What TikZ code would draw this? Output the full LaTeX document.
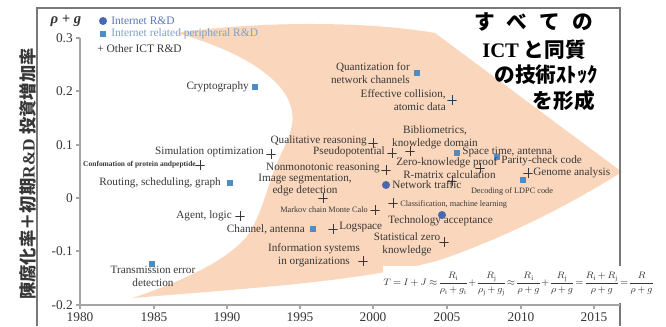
\documentclass[tikz,border=0pt]{standalone}
\usepackage{fontspec}
\usepackage{amsmath}
\setmainfont{Liberation Serif}
\newfontfamily\jp{Noto Sans CJK JP}
\definecolor{orangefill}{RGB}{250,215,188}
\definecolor{cblue}{RGB}{72,104,176}
\definecolor{sblue}{RGB}{79,140,198}
\definecolor{txt}{RGB}{55,55,55}
\definecolor{axisc}{RGB}{165,165,165}
\definecolor{framec}{RGB}{120,120,120}
\definecolor{legblue}{RGB}{90,120,185}
\definecolor{leglight}{RGB}{125,160,200}
\tikzset{
  lbl/.style={font=\fontsize{8.4}{9.6}\selectfont, text=txt, inner sep=0pt},
  sml/.style={font=\fontsize{6.2}{7}\selectfont, text=txt, inner sep=0pt},
  circm/.style={circle, fill=cblue, minimum size=6pt, inner sep=0pt},
  sqm/.style={rectangle, fill=sblue, minimum size=5.2pt, inner sep=0pt},
  plm/.style={rectangle, minimum size=6.8pt, inner sep=0pt,
    path picture={\draw[line width=0.5pt, draw=txt]
      (path picture bounding box.north) -- (path picture bounding box.south)
      (path picture bounding box.west) -- (path picture bounding box.east);}},
  ticklbl/.style={font=\fontsize{10}{12}\selectfont, text=txt, inner sep=0pt},
  jptxt/.style={font=\jp\bfseries\fontsize{15.5}{18}\selectfont, text=black, inner sep=0pt},
}
\begin{document}
\begin{tikzpicture}[x=0.75pt,y=-0.75pt]
\useasboundingbox (0,0) rectangle (666,326);
\fill[white] (0,0) rectangle (666,326);
% orange region
\fill[orangefill] (176,33) .. controls (250,22) and (360,20) .. (435,33)
  -- (622,172) .. controls (580,198) and (520,232) .. (440,260)
  .. controls (360,282) and (250,288) .. (133,298)
  .. controls (190,278) and (232,258) .. (250,232)
  .. controls (262,212) and (268,185) .. (276,165)
  .. controls (285,145) and (295,128) .. (292,112)
  .. controls (288,80) and (240,50) .. (176,33) -- cycle;
% frame
\draw[framec, line width=0.8pt] (37,326) -- (37,8) -- (620,8) -- (620,326);
% axes
\draw[axisc, line width=1.2pt] (80,38) -- (80,305) -- (620,305);
\foreach \v/\py in {0.3/38,0.2/91,0.1/145,0/198,-0.1/251,-0.2/305}{
  \draw[axisc, line width=0.8pt] (76,\py) -- (80,\py);
  \node[ticklbl, anchor=east] (yt\py) at (73,\py) {\v};
}
\foreach \yr/\px in {1980/80,1985/154,1990/227,1995/300,2000/373,2005/447,2010/521,2015/594}{
  \draw[axisc, line width=0.8pt] (\px,305) -- (\px,309);
  \node[ticklbl, anchor=north] (xt\yr) at (\px,312) {\yr};
}
% y axis title
\node[rotate=90, font=\jp\bfseries\fontsize{13}{15}\selectfont, inner sep=0pt, text=txt] (ytitle) at (28,174)
  {陳腐化率＋初期{\fontspec{Liberation Serif}\bfseries R\&D} 投資増加率};
\node[font=\bfseries\itshape\fontsize{11}{12}\selectfont, inner sep=0pt, text=txt] (rhog) at (66,21) {ρ + g};
% legend
\node[circm] (lg1) at (103,21) {};
\node[lbl, anchor=west, text=legblue, font=\fontsize{8.6}{9.6}\selectfont] (lg1t) at (111,21) {Internet R\&D};
\node[sqm] (lg2) at (103,34) {};
\node[lbl, anchor=west, text=leglight, font=\fontsize{8.6}{9.6}\selectfont] (lg2t) at (111,34) {Internet related peripheral R\&D};
\node[lbl, anchor=west, font=\fontsize{8.6}{9.6}\selectfont] (lg3t) at (97,49) {+ Other ICT R\&D};
% Japanese text
\node[jptxt, anchor=east] (j1) at (593,22) {す\hspace{9pt}べ\hspace{9pt}て\hspace{9pt}の};
\node[jptxt, anchor=east] (j2) at (586,50) {{\fontspec{Liberation Serif}\bfseries ICT} と同質};
\node[jptxt, anchor=east] (j3) at (598,75) {の技術ｽﾄｯｸ};
\node[jptxt, anchor=east] (j4) at (595,101) {を形成};
% data points with labels
\node[sqm] (crypto) at (255,87) {};
\node[lbl, anchor=east] (cryptoL) at (249,87) {Cryptography};
\node[sqm] (quant) at (417,73) {};
\node[lbl, anchor=east, align=right] (quantL) at (410,73) {Quantization for\\network channels};
\node[plm] (effcol) at (452,100) {};
\node[lbl, anchor=east, align=right] (effcolL) at (446,100) {Effective collision,\\atomic data};
\node[plm] (simopt) at (271,154) {};
\node[lbl, anchor=east] (simoptL) at (264,152) {Simulation optimization};
\node[plm] (conf) at (200,165) {};
\node[sml, anchor=east, font=\bfseries\fontsize{5.6}{7}\selectfont] (confL) at (196,165) {Confomation of protein andpeptide};
\node[sqm] (route) at (230,183) {};
\node[lbl, anchor=east] (routeL) at (221,183) {Routing, scheduling, graph};
\node[plm] (agent) at (240,216) {};
\node[lbl, anchor=east] (agentL) at (232,216) {Agent, logic};
\node[sqm] (trans) at (152,264) {};
\node[lbl, anchor=north, align=center] (transL) at (153,266) {Transmission error\\detection};
\node[lbl, anchor=east] (chanL) at (305,229) {Channel, antenna};
\node[sqm] (chan) at (313,229) {};
\node[plm] (logs) at (333,229) {};
\node[lbl, anchor=west] (logsL) at (339,227) {Logspace};
\node[plm] (info) at (363,261) {};
\node[lbl, align=center] (infoL) at (314,255) {Information systems\\in organizations};
\node[plm] (stat) at (444,242) {};
\node[lbl, align=center] (statL) at (407,244) {Statistical zero\\knowledge};
\node[lbl, anchor=west] (techL) at (388,221) {Technology acceptance};
\node[circm] (tech) at (442,215) {};
\node[plm] (class) at (393,203) {};
\node[sml, anchor=west] (classL) at (400,204) {Classification, machine learning};
\node[circm] (net) at (386,185) {};
\node[lbl, anchor=west] (netL) at (392,185) {Network traffic};
\node[plm] (markov) at (375,210) {};
\node[sml, anchor=east] (markovL) at (368,210) {Markov chain Monte Calo};
\node[plm] (image) at (323,198) {};
\node[lbl, align=center] (imageL) at (305,185) {Image segmentation,\\edge detection};
\node[plm] (nonmono) at (386,170) {};
\node[lbl, anchor=east] (nonmonoL) at (380,168) {Nonmonotonic reasoning};
\node[plm] (qual) at (373,143) {};
\node[lbl, anchor=east] (qualL) at (367,141) {Qualitative reasoning};
\node[plm] (pseudo) at (392,153) {};
\node[lbl, anchor=east] (pseudoL) at (385,152) {Pseudopotential};
\node[plm] (biblio) at (410,151) {};
\node[lbl, align=center] (biblioL) at (435,137) {Bibliometrics,\\knowledge domain};
\node[sqm] (space) at (457,153) {};
\node[lbl, anchor=west] (spaceL) at (462,152) {Space time, antenna};
\node[sqm] (parity) at (497,157) {};
\node[plm] (zero) at (480,168) {};
\node[lbl, anchor=west] (zeroL) at (396,163) {Zero-knowledge proof};
\node[lbl, anchor=west] (parityL) at (501,161) {Parity-check code};
\node[plm] (rmat) at (452,181) {};
\node[lbl, anchor=west] (rmatL) at (403,175) {R-matrix calculation};
\node[plm] (genome) at (528,173) {};
\node[lbl, anchor=west] (genomeL) at (533,173) {Genome analysis};
\node[sqm] (ldpc) at (523,180) {};
\node[sml, anchor=center] (ldpcL) at (512,191) {Decoding of LDPC code};
% formula box
\fill[white] (383,266) rectangle (656,303);
\node[inner sep=0pt, font=\fontsize{7.2}{8}\selectfont, text=txt] (formula) at (518,284)
 {\medmuskip=2.5mu\thickmuskip=3.5mu\nulldelimiterspace=0pt$T = I + J \approx \dfrac{R_{\mathrm{i}}}{\rho_{\mathrm{i}}+g_{\mathrm{i}}} + \dfrac{R_{\mathrm{j}}}{\rho_{\mathrm{j}}+g_{\mathrm{j}}} \approx \dfrac{R_{\mathrm{i}}}{\rho+g} + \dfrac{R_{\mathrm{j}}}{\rho+g} = \dfrac{R_{\mathrm{i}}+R_{\mathrm{j}}}{\rho+g} = \dfrac{R}{\rho+g}$};
\end{tikzpicture}
\end{document}
